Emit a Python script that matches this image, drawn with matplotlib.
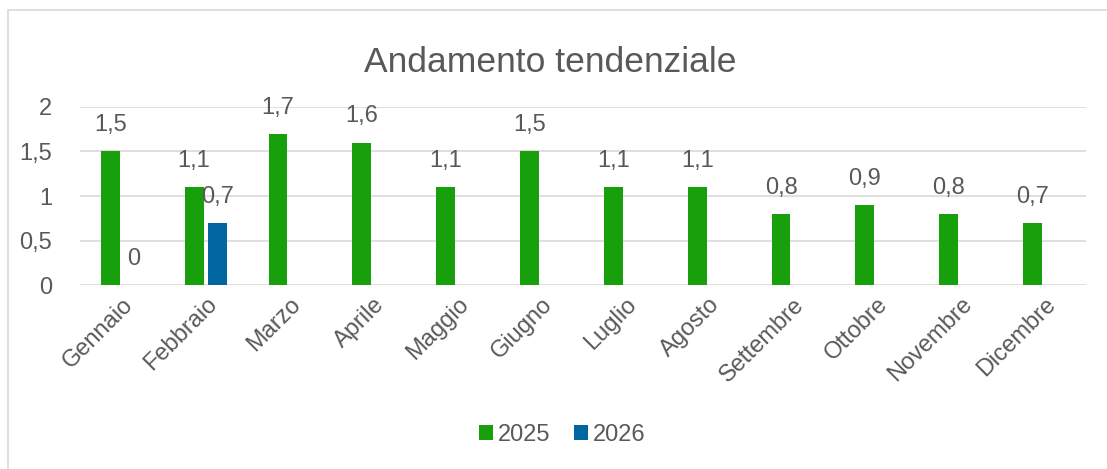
import matplotlib.pyplot as plt
import matplotlib.patches as mpatches
import numpy as np

plt.rcParams['font.family'] = ['Liberation Sans', 'DejaVu Sans']

mesi = ['Gennaio', 'Febbraio', 'Marzo', 'Aprile', 'Maggio', 'Giugno',
        'Luglio', 'Agosto', 'Settembre', 'Ottobre', 'Novembre', 'Dicembre']
val_2025 = [1.5, 1.1, 1.7, 1.6, 1.1, 1.5, 1.1, 1.1, 0.8, 0.9, 0.8, 0.7]
val_2026 = [0, 0.7]

verde = '#17A00B'
blu = '#0067A0'
grigio = '#595959'

def fmt(v):
    # virgola decimale
    return ('%g' % v).replace('.', ',')

fig = plt.figure(figsize=(11.07, 4.69), dpi=100)
ax = fig.add_axes([0.0723, 0.392, 0.909, 0.38])

x = np.arange(len(mesi))
w = 0.225
off = 0.14
b1 = ax.bar(x - off, val_2025, w, color=verde, label='2025', zorder=3)
x2 = x[:len(val_2026)]
b2 = ax.bar(x2 + off, val_2026, w, color=blu, label='2026', zorder=3)

for xi, v in zip(x - off, val_2025):
    ax.text(xi, v + 0.17, fmt(v), ha='center', va='bottom', fontsize=17, color=grigio)
for xi, v in zip(x2 + off, val_2026):
    ax.text(xi, v + 0.17, fmt(v), ha='center', va='bottom', fontsize=17, color=grigio)

ax.set_xlim(-0.5, len(mesi) - 0.5)
ax.set_ylim(0, 2)
ax.set_yticks([0, 0.5, 1, 1.5, 2])
ax.set_yticklabels([fmt(t) for t in [0, 0.5, 1, 1.5, 2]])
ax.set_xticks(x)
ax.set_xticklabels(mesi, rotation=45, ha='right', rotation_mode='anchor')
ax.tick_params(axis='both', length=0, labelsize=17, labelcolor=grigio)
ax.tick_params(axis='y', pad=20)
ax.tick_params(axis='x', pad=6)
ax.grid(axis='y', color='#D9D9D9', linewidth=1.2, zorder=0)
for s in ax.spines.values():
    s.set_visible(False)

fig.text(0.497, 0.866, 'Andamento tendenziale', ha='center', va='center',
         fontsize=25.5, color=grigio)

fig.legend(handles=[b1, b2], loc='center', bbox_to_anchor=(0.508, 0.072),
           ncol=2, frameon=False, fontsize=17, labelcolor=grigio,
           handlelength=0.6, handleheight=0.6, handletextpad=0.2, columnspacing=1.0)

# bordo del grafico
fig.patches.append(mpatches.Rectangle((7.5 / 1107, -0.1), 1.2, 1 - 10.5 / 469 + 0.1,
                                      transform=fig.transFigure, fill=False,
                                      edgecolor='#D9D9D9', linewidth=1.2))

fig.savefig('out.png', dpi=100)
